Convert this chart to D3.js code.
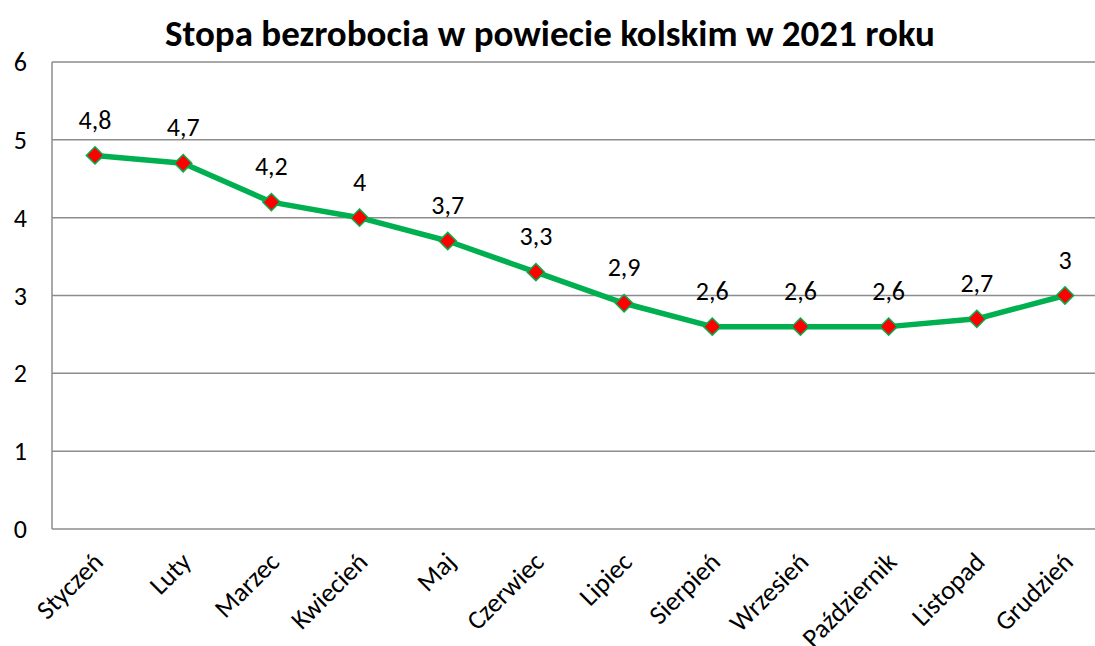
<!DOCTYPE html>
<html>
<head>
<meta charset="utf-8">
<script src="https://cdn.jsdelivr.net/npm/d3@7"></script>
<style>
  body { margin: 0; background: #fff; }
  text { font-family: Carlito, Calibri, Lato, sans-serif; fill: #000; }
</style>
</head>
<body>
<div id="wrapper"></div>
<script>
// Data
const months = ['Styczeń', 'Luty', 'Marzec', 'Kwiecień', 'Maj', 'Czerwiec', 'Lipiec', 'Sierpień', 'Wrzesień', 'Październik', 'Listopad', 'Grudzień']
const rates = [4.8, 4.7, 4.2, 4, 3.7, 3.3, 2.9, 2.6, 2.6, 2.6, 2.7, 3]
const yTicks = [0, 1, 2, 3, 4, 5, 6]
const title = 'Stopa bezrobocia w powiecie kolskim w 2021 roku'

const width = 1095
const height = 646
const plot = { left: 52, right: 1095, top: 62, bottom: 529 }

const svg = d3.select('#wrapper').append('svg')
  .attr('width', width)
  .attr('height', height)

const xScale = d3.scalePoint()
  .domain(months)
  .range([95, 1065])

const yScale = d3.scaleLinear()
  .domain([0, 6])
  .range([plot.bottom, plot.top])

// gridlines
svg.append('g')
  .selectAll('line')
  .data(yTicks.filter(d => d > 0))
  .join('line')
  .attr('x1', plot.left)
  .attr('x2', plot.right)
  .attr('y1', d => yScale(d))
  .attr('y2', d => yScale(d))
  .attr('stroke', '#8c8c8c')
  .attr('stroke-width', 1.5)

// axes lines
svg.append('line')
  .attr('x1', plot.left).attr('x2', plot.left)
  .attr('y1', plot.top).attr('y2', plot.bottom)
  .attr('stroke', '#8c8c8c').attr('stroke-width', 1.5)
svg.append('line')
  .attr('x1', plot.left).attr('x2', plot.right)
  .attr('y1', plot.bottom).attr('y2', plot.bottom)
  .attr('stroke', '#8c8c8c').attr('stroke-width', 1.5)

// y tick labels
svg.append('g')
  .selectAll('text')
  .data(yTicks)
  .join('text')
  .attr('x', 27)
  .attr('y', d => yScale(d))
  .attr('dy', '0.35em')
  .attr('text-anchor', 'end')
  .style('font-size', '26px')
  .text(d => d)

// x tick labels
svg.append('g')
  .selectAll('text')
  .data(months)
  .join('text')
  .attr('transform', d => `translate(${xScale(d) + 3},${plot.bottom + 28}) rotate(-45)`)
  .attr('text-anchor', 'end')
  .attr('dy', '0.35em')
  .style('font-size', '26.5px')
  .text(d => d)

// line
const line = d3.line()
  .x((d, i) => xScale(months[i]))
  .y(d => yScale(d))

svg.append('path')
  .datum(rates)
  .attr('d', line)
  .attr('fill', 'none')
  .attr('stroke', '#00b050')
  .attr('stroke-width', 5.5)
  .attr('stroke-linejoin', 'round')

// markers
svg.append('g')
  .selectAll('path')
  .data(rates)
  .join('path')
  .attr('transform', (d, i) => `translate(${xScale(months[i])},${yScale(d)})`)
  .attr('d', d3.symbol(d3.symbolDiamond2, 190)())
  .attr('fill', '#ff0000')
  .attr('stroke', '#00b050')
  .attr('stroke-width', 1.5)

// value labels
svg.append('g')
  .selectAll('text')
  .data(rates)
  .join('text')
  .attr('x', (d, i) => xScale(months[i]))
  .attr('y', d => yScale(d) - 36)
  .attr('text-anchor', 'middle')
  .attr('dy', '0.35em')
  .style('font-size', '26px')
  .text(d => String(d).replace('.', ','))

// title
svg.append('text')
  .attr('x', 550)
  .attr('y', 33)
  .attr('text-anchor', 'middle')
  .attr('dy', '0.35em')
  .style('font-size', '37px')
  .style('font-weight', 'bold')
  .text(title)
</script>
</body>
</html>
